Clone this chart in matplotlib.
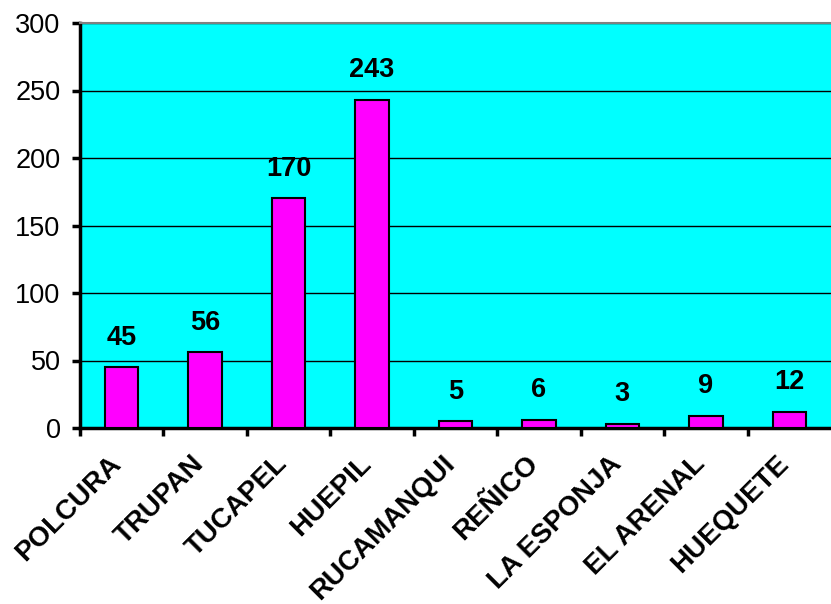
import matplotlib
matplotlib.use("Agg")
import matplotlib.pyplot as plt
import matplotlib.transforms as mtransforms
import numpy as np

categories = ["POLCURA", "TRUPAN", "TUCAPEL", "HUEPIL", "RUCAMANQUI",
              "REÑICO", "LA ESPONJA", "EL ARENAL", "HUEQUETE"]
values = [45, 56, 170, 243, 5, 6, 3, 9, 12]
yticks = [0, 50, 100, 150, 200, 250, 300]

plt.rcParams['font.family'] = ['Liberation Sans', 'DejaVu Sans']

fig = plt.figure(figsize=(8.31, 6.04), dpi=100)
ax = fig.add_axes([80/831, 1-428/604, 1-80/831, (428-23)/604])
ax.set_facecolor('#00FFFF')

x = np.arange(len(categories))
bars = ax.bar(x, values, width=0.4, color='#FF00FF', edgecolor='black', linewidth=1.5, zorder=3)
for xi, v in zip(x, values):
    ax.annotate(str(v), (xi, v), xytext=(0, 12), textcoords='offset points',
                ha='center', va='bottom', fontsize=19.5, fontweight='bold', color='black')

ax.set_xlim(-0.5, len(categories) - 0.5)
ax.set_ylim(0, 300)
ax.set_yticks(yticks)
ax.set_yticklabels([str(t) for t in yticks], fontsize=19.5)
ax.yaxis.grid(True, color='black', linewidth=1.0, zorder=1)
ax.set_axisbelow(True)

ax.set_xticks(x)
ax.set_xticklabels(categories, rotation=45, ha='right', va='top', rotation_mode='anchor',
                   fontsize=20, fontweight='bold')
ax.set_xticks(np.arange(len(categories)) - 0.5, minor=True)
ax.tick_params(axis='x', which='major', length=0, pad=12)
ax.tick_params(axis='x', which='minor', length=6, width=2.5, direction='out')
ax.tick_params(axis='y', length=6, width=2.5, direction='out', pad=8)

offset = mtransforms.ScaledTranslation(-14/100, -6/100, fig.dpi_scale_trans)
for lab in ax.get_xticklabels():
    lab.set_transform(lab.get_transform() + offset)

ax.spines['left'].set_linewidth(2.5)
ax.spines['bottom'].set_linewidth(2.5)
ax.spines['top'].set_color('#808080')
ax.spines['top'].set_linewidth(1.5)
ax.spines['right'].set_visible(False)

fig.savefig('out.png', dpi=100)
